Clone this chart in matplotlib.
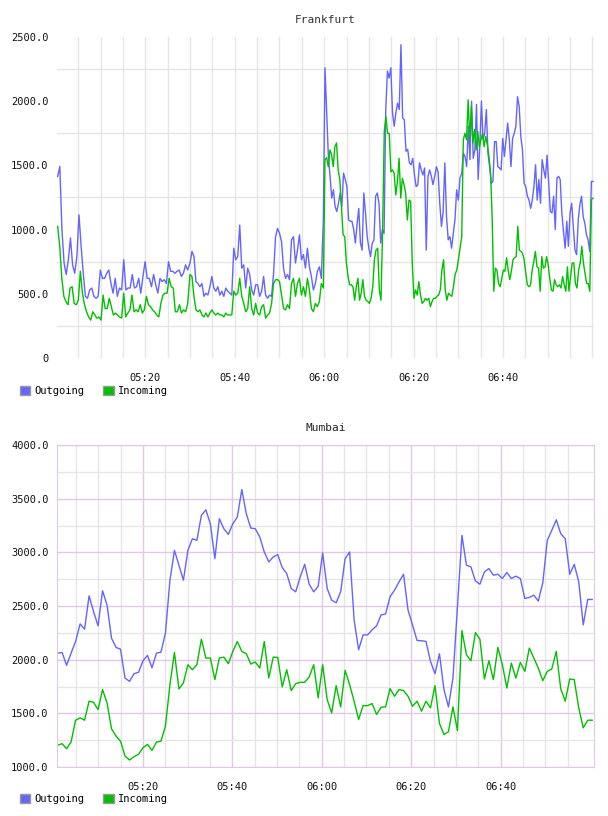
import numpy as np
import matplotlib.pyplot as plt
from matplotlib.patches import Patch
from matplotlib.ticker import FixedLocator, FuncFormatter

plt.rcParams['font.family'] = ['DejaVu Sans Mono']

BLUE = '#6464ff'
GREEN = '#00c000'
GRID = '#e6e6e6'
PURPLE = '#e2c8e6'

# Frankfurt: four half-hour stretches, (start, end) in minutes after 05:00
fra_spans = [(0.38, 29.47), (29.98, 59.81), (60.18, 90.39), (90.77, 120.14)]

fra_out = [
    [1414, 1492, 1000, 740, 650, 765, 935, 725, 660, 790, 1115, 870, 660, 480, 465, 530,
     545, 480, 465, 480, 685, 620, 620, 660, 685, 580, 505, 620, 480, 545, 530, 765, 530,
     545, 545, 650, 545, 555, 620, 505, 635, 750, 620, 620, 555, 650, 570, 505, 620, 595,
     610, 580, 750, 675, 675, 660, 675, 685, 635, 660, 725, 685],
    [740, 830, 790, 595, 580, 555, 580, 480, 505, 490, 555, 635, 545, 520, 555, 490, 520,
     480, 545, 520, 505, 490, 855, 765, 790, 1035, 700, 725, 545, 700, 650, 530, 490, 570,
     570, 480, 520, 635, 490, 465, 490, 480, 660, 945, 1010, 970, 905, 700, 620, 650, 610,
     920, 945, 740, 840, 960, 765, 805, 700, 855, 710, 635, 530, 580, 675, 710, 620, 1075],
    [2260, 1910, 1570, 1415, 1245, 1310, 1180, 1140, 1205, 1285, 1180, 1440, 1390, 1335,
     1075, 1065, 1065, 1000, 895, 1040, 1165, 895, 840, 1285, 1130, 945, 855, 790, 895, 920,
     1260, 1285, 1205, 895, 1000, 970, 1935, 2235, 2180, 2260, 1910, 1805, 1910, 1985, 1935,
     2440, 1870, 1855, 1610, 1625, 1520, 1505, 1555, 1425, 1335, 1350, 1520, 1465, 1425,
     1480, 840, 1415, 1465, 1415, 1350, 1415, 1490, 1450, 1205, 1025, 1140, 1520, 1100, 920,
     945, 855, 970, 1075, 1310, 1230, 1400],
    [1440, 1595, 1570, 1490, 1805, 1545, 2000, 1555, 1620, 1975, 1390, 1645, 2000, 1700,
     1750, 1935, 1595, 1490, 1360, 1375, 1685, 1685, 1490, 1480, 1465, 1710, 1570, 1700,
     1830, 1700, 1490, 1710, 1750, 1805, 2035, 1960, 1725, 1620, 1360, 1335, 1260, 1230,
     1165, 1230, 1335, 1505, 1230, 1390, 1205, 1545, 1465, 1400, 1580, 1360, 1140, 1130,
     1260, 1000, 1400, 1415, 1390, 1130, 985, 855, 1065, 870, 1130, 1205, 1025, 840, 805,
     1075, 1195, 1260, 1100, 1050, 960, 920, 830, 1375, 1375],
]

fra_in = [
    [1025, 870, 620, 480, 440, 415, 545, 555, 425, 415, 450, 675, 505, 415, 360, 320, 295,
     360, 335, 310, 320, 295, 490, 385, 385, 465, 400, 335, 350, 335, 320, 310, 505, 320,
     350, 375, 490, 360, 375, 360, 415, 350, 375, 480, 415, 400, 375, 360, 335, 320, 425,
     490, 505, 505, 620, 555, 545, 360, 360, 415, 350, 375, 360, 425],
    [650, 635, 480, 375, 360, 375, 335, 320, 350, 320, 350, 375, 350, 335, 350, 335, 335,
     320, 350, 335, 335, 335, 520, 490, 505, 620, 480, 425, 360, 385, 555, 385, 335, 425,
     350, 335, 400, 415, 310, 335, 350, 425, 580, 610, 610, 595, 490, 385, 375, 415, 385,
     580, 620, 480, 580, 620, 490, 555, 480, 620, 530, 385, 360, 425, 400, 440, 580, 545],
    [1545, 1560, 1490, 1620, 1585, 1490, 1645, 1675, 1465, 1390, 1180, 960, 945, 740, 635,
     570, 570, 555, 450, 555, 620, 450, 505, 610, 480, 450, 440, 425, 465, 555, 765, 840,
     855, 530, 450, 1000, 1765, 1880, 1750, 1750, 1450, 1465, 1440, 1270, 1375, 1555, 1245,
     1400, 1350, 1285, 1075, 1230, 1220, 740, 465, 530, 490, 595, 490, 425, 440, 465, 450,
     465, 400, 440, 465, 465, 480, 490, 530, 685, 765, 530, 450, 505, 490, 480, 555, 650,
     685, 765, 855],
    [945, 1700, 1750, 1700, 2010, 1700, 1960, 1675, 1780, 1620, 1765, 1645, 1700, 1750,
     1645, 1725, 1660, 1570, 1440, 1100, 520, 700, 685, 580, 555, 620, 685, 675, 780, 685,
     610, 675, 765, 780, 790, 1025, 840, 830, 815, 765, 660, 570, 555, 570, 685, 750, 830,
     710, 700, 520, 790, 700, 710, 790, 725, 620, 530, 520, 610, 570, 555, 570, 545, 635,
     570, 520, 710, 520, 635, 740, 740, 580, 545, 685, 740, 870, 740, 660, 580, 580, 520,
     1235, 1245],
]

# Mumbai: one sample a minute
mum_span = (0.9, 120.5)
mum_out = [
    2061, 2067, 1947, 2061, 2170, 2333, 2284, 2595, 2448, 2315, 2642, 2509, 2200, 2114,
    2098, 1829, 1798, 1869, 1882, 1990, 2040, 1925, 2061, 2070, 2247, 2740, 3019, 2880,
    2740, 3019, 3127, 3112, 3344, 3396, 3266, 2942, 3313, 3220, 3167, 3266, 3328, 3585,
    3359, 3226, 3220, 3143, 3003, 2911, 2957, 2979, 2858, 2802, 2663, 2632, 2772, 2889,
    2703, 2632, 2685, 2994, 2663, 2555, 2530, 2632, 2942, 3003, 2370, 2092, 2231, 2231,
    2278, 2315, 2417, 2426, 2586, 2648, 2725, 2796, 2462, 2324, 2179, 2176, 2170, 1984,
    1869, 2055, 1721, 1560, 1829, 2490, 3158, 2880, 2864, 2734, 2703, 2818, 2849, 2787,
    2796, 2756, 2812, 2756, 2778, 2756, 2570, 2580, 2601, 2546, 2716, 3112, 3205, 3303,
    3174, 3127, 2796, 2889, 2725, 2324, 2561, 2561,
]
mum_in = [
    1204, 1217, 1170, 1235, 1436, 1458, 1436, 1613, 1603, 1535, 1721, 1597, 1356, 1288,
    1241, 1102, 1065, 1096, 1118, 1180, 1211, 1155, 1232, 1241, 1381, 1767, 2067, 1727,
    1783, 1953, 1906, 1953, 2191, 2015, 2015, 1814, 2015, 2024, 1962, 2077, 2169, 2077,
    2055, 1959, 1978, 1922, 2169, 1829, 2024, 2021, 1746, 1906, 1712, 1777, 1789, 1789,
    1839, 1953, 1644, 1953, 1628, 1504, 1758, 1560, 1900, 1767, 1613, 1443, 1572, 1572,
    1591, 1489, 1557, 1560, 1730, 1659, 1721, 1712, 1659, 1566, 1613, 1520, 1613, 1551,
    1758, 1405, 1303, 1328, 1560, 1340, 2271, 2046, 1990, 2253, 2191, 1820, 1990, 1814,
    2114, 1953, 1736, 1968, 1829, 1975, 1891, 2108, 2015, 1922, 1804, 1891, 1913, 2077,
    1727, 1613, 1820, 1814, 1551, 1365, 1436, 1436,
]

time_ticks = [20, 40, 60, 80, 100]
five_min = np.arange(5, 125, 5)


def hhmm(m, pos=None):
    m = int(round(m))
    return f"{5 + m // 60:02d}:{m % 60:02d}"


def ylab(v, pos=None):
    return '0' if v == 0 else f"{v:.1f}"


def stitch(spans, parts):
    t, v = [], []
    for (a, b), p in zip(spans, parts):
        t.append(np.linspace(a, b, len(p)))
        v.append(p)
    return np.concatenate(t), np.concatenate(v)


fig = plt.figure(figsize=(6.08, 8.16), dpi=100)

# ---- Frankfurt
ax1 = fig.add_axes([57 / 608, 1 - 358 / 816, 537 / 608, 321 / 816])
t, v = stitch(fra_spans, fra_out)
ax1.plot(t, v, color=BLUE, lw=1.0)
t, v = stitch(fra_spans, fra_in)
ax1.plot(t, v, color=GREEN, lw=1.0)
ax1.set_xlim(0.23, 120.36)
ax1.set_ylim(0, 2500)
ax1.xaxis.set_major_locator(FixedLocator(time_ticks))
ax1.xaxis.set_minor_locator(FixedLocator(five_min))
ax1.yaxis.set_major_locator(FixedLocator([0, 500, 1000, 1500, 2000, 2500]))
ax1.yaxis.set_minor_locator(FixedLocator([250, 750, 1250, 1750, 2250]))
ax1.grid(True, which='minor', color=GRID, lw=1.0)
ax1.grid(True, which='major', axis='x', color=GRID, lw=1.0)
for s in ax1.spines.values():
    s.set_visible(False)
ax1.set_title('Frankfurt', fontsize=8, color='#333333', pad=10)

# ---- Mumbai
ax2 = fig.add_axes([57 / 608, 1 - 767 / 816, 537 / 608, 322 / 816])
tm = np.linspace(mum_span[0], mum_span[1], len(mum_out))
ax2.plot(tm, mum_out, color=BLUE, lw=1.0)
tm = np.linspace(mum_span[0], mum_span[1], len(mum_in))
ax2.plot(tm, mum_in, color=GREEN, lw=1.0)
ax2.set_xlim(0.76, 120.9)
ax2.set_ylim(1000, 4000)
ax2.xaxis.set_major_locator(FixedLocator(time_ticks))
ax2.xaxis.set_minor_locator(FixedLocator([m for m in five_min if m % 20]))
ax2.yaxis.set_major_locator(FixedLocator([1000, 1500, 2000, 2500, 3000, 3500, 4000]))
ax2.yaxis.set_minor_locator(FixedLocator([1250, 1750, 2250, 2750, 3250, 3750]))
ax2.grid(True, which='minor', color=GRID, lw=1.0)
ax2.grid(True, which='major', color=PURPLE, lw=1.0)
for s in ax2.spines.values():
    s.set_color(PURPLE)
ax2.set_title('Mumbai', fontsize=8, color='#222222', pad=10)

for ax in (ax1, ax2):
    ax.set_axisbelow(True)
    ax.xaxis.set_major_formatter(FuncFormatter(hhmm))
    ax.yaxis.set_major_formatter(FuncFormatter(ylab))
    ax.tick_params(which='both', length=0, labelsize=7.5, colors='#111111')
    ax.tick_params(axis='x', pad=11)
    ax.tick_params(axis='y', pad=6)

handles = [Patch(facecolor=BLUE, edgecolor='#999999', label='Outgoing'),
           Patch(facecolor=GREEN, edgecolor='#999999', label='Incoming')]
for ytop in (386 / 816, 794 / 816):
    fig.legend(handles=handles, loc='upper left', bbox_to_anchor=(20 / 608, 1 - ytop + 0.0),
               ncol=2, frameon=False, fontsize=7.5, handlelength=1.0, handleheight=1.0,
               handletextpad=0.4, columnspacing=1.8, borderaxespad=0, borderpad=0)

fig.savefig('out.png', dpi=100)
